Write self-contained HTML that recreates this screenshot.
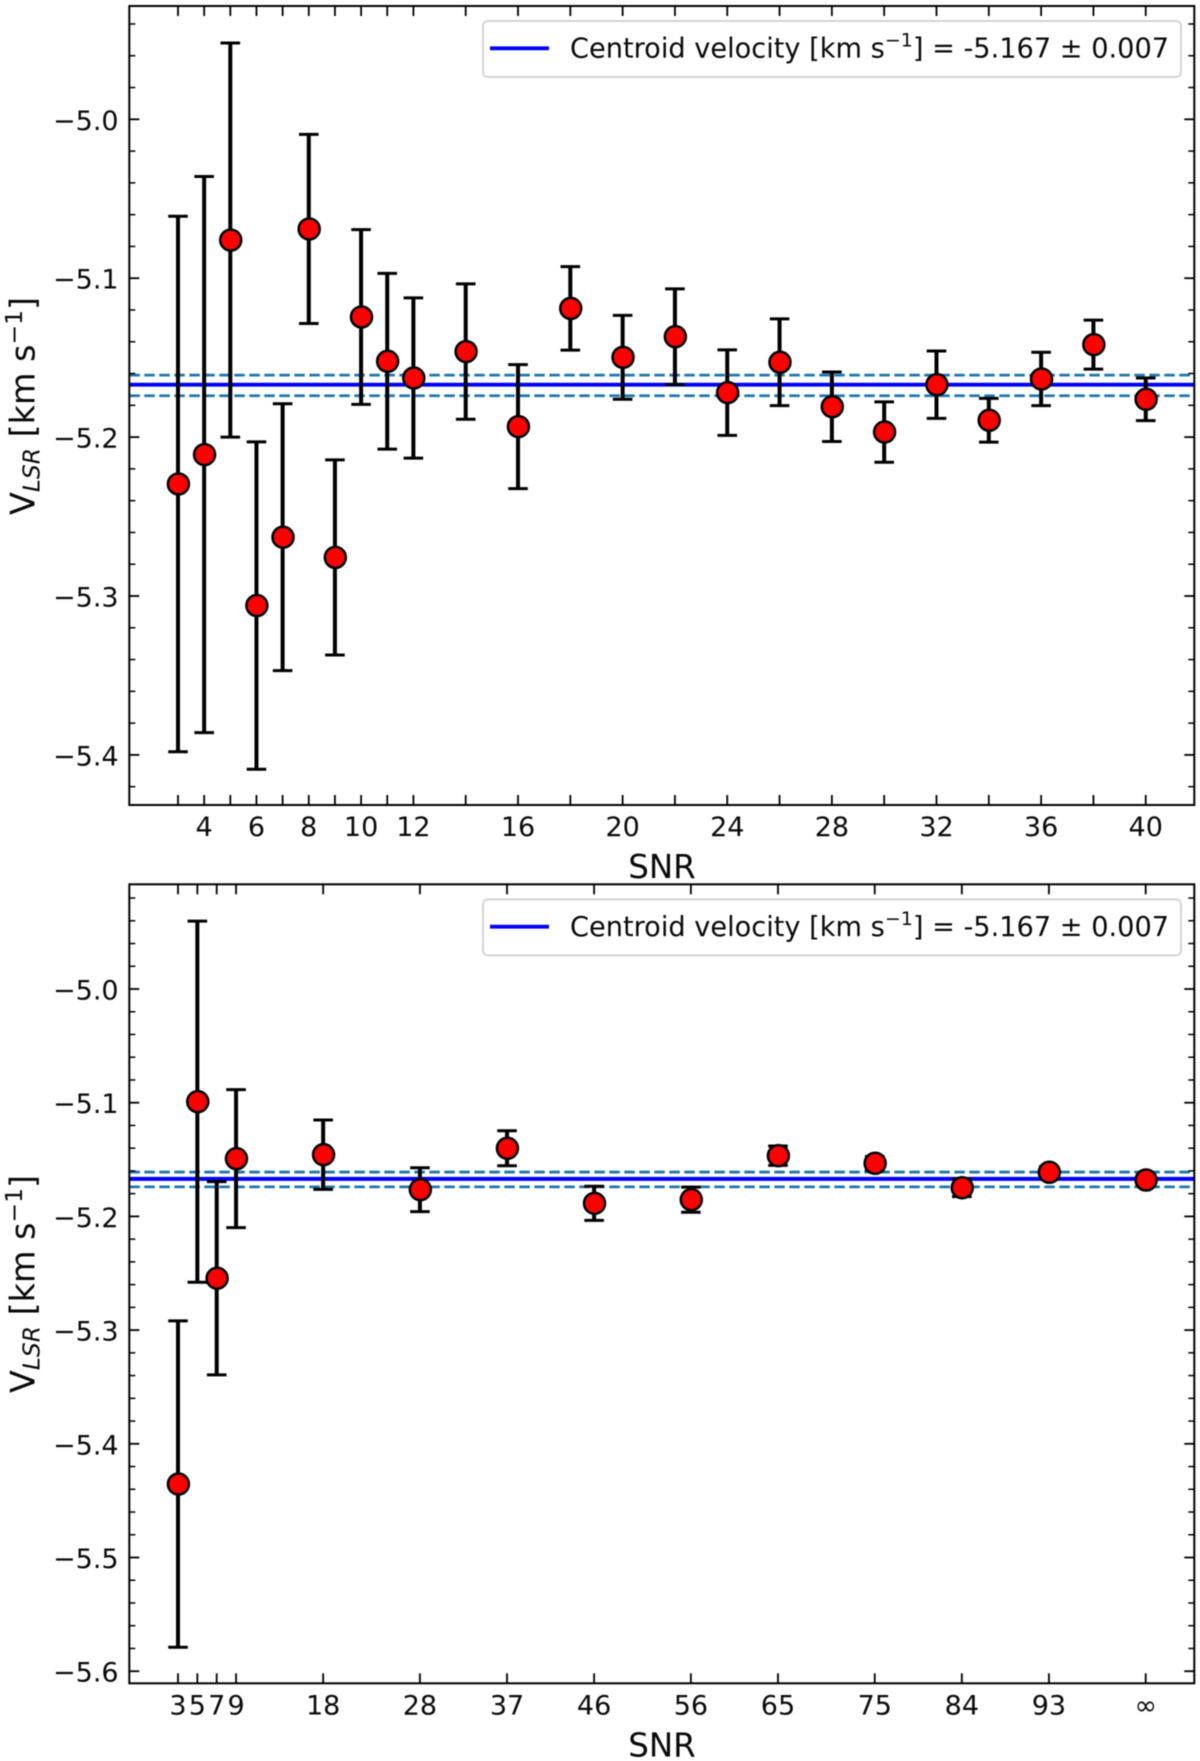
<!DOCTYPE html>
<html lang="en">
<head>
<meta charset="utf-8">
<title>Centroid velocity vs SNR</title>
<style>
  html, body { margin: 0; padding: 0; background: #fff; }
  body { width: 1200px; height: 1761px; overflow: hidden; }
  svg { display: block; filter: blur(0.4px); }
  text { font-family: "DejaVu Sans", "Liberation Sans", sans-serif; fill: #0a0a0a; }
  .tick-label { font-size: 27px; }
  .axis-title { font-size: 32.5px; }
  .y-title { font-size: 33.4px; }
  .legend-text { font-size: 27.2px; }
</style>
</head>
<body>
<svg id="figure" width="1200" height="1761" viewBox="0 0 1200 1761" xmlns="http://www.w3.org/2000/svg">
  <rect x="0" y="0" width="1200" height="1761" fill="#ffffff"/>

  <g id="panel-top"></g>
  <g id="panel-bottom"></g>

  <g>
    <rect x="483" y="21" width="698" height="56" rx="5" fill="#ffffff" fill-opacity="0.9" stroke="#d4d4d4" stroke-width="2"/>
    <line x1="490" y1="48.3" x2="549" y2="48.3" stroke="#0000ff" stroke-width="3.8"/>
    <text class="legend-text" x="570" y="57.5">Centroid velocity [km s<tspan dy="-11" font-size="19">−1</tspan><tspan dy="11">] = -5.167 ± 0.007</tspan></text>
  </g>
  <g>
    <rect x="483" y="899.4" width="698" height="56" rx="5" fill="#ffffff" fill-opacity="0.9" stroke="#d4d4d4" stroke-width="2"/>
    <line x1="490" y1="926.7" x2="549" y2="926.7" stroke="#0000ff" stroke-width="3.8"/>
    <text class="legend-text" x="570" y="935.9">Centroid velocity [km s<tspan dy="-11" font-size="19">−1</tspan><tspan dy="11">] = -5.167 ± 0.007</tspan></text>
  </g>

  <text class="axis-title" x="662" y="878" text-anchor="middle">SNR</text>
  <text class="axis-title" x="662" y="1756.5" text-anchor="middle">SNR</text>

  <text class="y-title" transform="translate(34.5,406) rotate(-90)" text-anchor="middle">V<tspan dy="5" font-size="23.4" font-style="italic">LSR</tspan><tspan dy="-5"> [km s</tspan><tspan dy="-12.5" font-size="23.4">−1</tspan><tspan dy="12.5">]</tspan></text>
  <text class="y-title" transform="translate(34.5,1284) rotate(-90)" text-anchor="middle">V<tspan dy="5" font-size="23.4" font-style="italic">LSR</tspan><tspan dy="-5"> [km s</tspan><tspan dy="-12.5" font-size="23.4">−1</tspan><tspan dy="12.5">]</tspan></text>
</svg>

<script>
// ---------- Top panel data ----------
const topSnr = [3, 4, 5, 6, 7, 8, 9, 10, 11, 12, 14, 16, 18, 20, 22, 24, 26, 28, 30, 32, 34, 36, 38, 40];
const topVelocity = [-5.2295, -5.211, -5.076, -5.306, -5.263, -5.069, -5.2757, -5.1244, -5.1523, -5.1628, -5.1462, -5.1934, -5.119, -5.1498, -5.1368, -5.172, -5.1529, -5.1809, -5.1968, -5.167, -5.1894, -5.1634, -5.1418, -5.1762];
const topError = [0.1685, 0.175, 0.124, 0.103, 0.084, 0.0595, 0.0614, 0.055, 0.0553, 0.0504, 0.0426, 0.039, 0.0263, 0.0264, 0.0301, 0.0269, 0.0273, 0.0219, 0.019, 0.0212, 0.0138, 0.0168, 0.0154, 0.0134];
const topXTicks = [3, 4, 5, 6, 7, 8, 9, 10, 11, 12, 14, 16, 18, 20, 22, 24, 26, 28, 30, 32, 34, 36, 38, 40];
const topXTickLabels = [4, 6, 8, 10, 12, 16, 20, 24, 28, 32, 36, 40];
const topYTicks = [-5.0, -5.1, -5.2, -5.3, -5.4];
const topYMinorTicks = [-4.94, -4.96, -4.98, -5.02, -5.04, -5.06, -5.08, -5.12, -5.14, -5.16, -5.18, -5.22, -5.24, -5.26, -5.28, -5.32, -5.34, -5.36, -5.38, -5.42];

// ---------- Bottom panel data ----------
const bottomSnr = [3, 5, 7, 9, 18, 28, 37, 46, 56, 65, 75, 84, 93, 103];
const bottomVelocity = [-5.4354, -5.0991, -5.2544, -5.1492, -5.1457, -5.1765, -5.1401, -5.1885, -5.1853, -5.1466, -5.1533, -5.1748, -5.1612, -5.168];
const bottomError = [0.1435, 0.1588, 0.085, 0.0607, 0.0305, 0.0193, 0.0154, 0.015, 0.011, 0.0085, 0.006, 0.0078, 0.005, 0.004];
const bottomXTicks = [3, 5, 7, 9, 18, 28, 37, 46, 56, 65, 75, 84, 93, 103];
const bottomXTickLabels = ["3", "5", "7", "9", "18", "28", "37", "46", "56", "65", "75", "84", "93", "∞"];
const bottomYTicks = [-5.0, -5.1, -5.2, -5.3, -5.4, -5.5, -5.6];
const bottomYMinorTicks = [-4.92, -4.94, -4.96, -4.98, -5.02, -5.04, -5.06, -5.08, -5.12, -5.14, -5.16, -5.18, -5.22, -5.24, -5.26, -5.28, -5.32, -5.34, -5.36, -5.38, -5.42, -5.44, -5.46, -5.48, -5.52, -5.54, -5.56, -5.58];

// ---------- Reference lines (both panels) ----------
const centroidVelocity = -5.167;
const centroidUpper = -5.161;
const centroidLower = -5.174;

const SVG_NS = 'http://www.w3.org/2000/svg';
const AXIS_LEFT = 129.3;
const AXIS_RIGHT = 1194.3;

function make(tag, attrs, parent) {
  const el = document.createElementNS(SVG_NS, tag);
  for (const key in attrs) el.setAttribute(key, attrs[key]);
  parent.appendChild(el);
  return el;
}

function drawPanel(cfg) {
  const g = document.getElementById(cfg.id);
  const xScale = s => cfg.xAt3 + (s - 3) * cfg.xPerUnit;
  const yScale = v => cfg.yAt5 + (-5 - v) * cfg.yPerUnit;

  // reference lines
  [centroidUpper, centroidLower].forEach(v => {
    const dash = make('line', { x1: AXIS_LEFT, x2: AXIS_RIGHT, y1: yScale(v), y2: yScale(v), stroke: '#1f77b4', 'stroke-width': 2.8, 'stroke-dasharray': '10.5 4.5' }, g);
    
    
  });
  const solid = make('line', { x1: AXIS_LEFT, x2: AXIS_RIGHT, y1: yScale(centroidVelocity), y2: yScale(centroidVelocity), stroke: '#0000ff', 'stroke-width': 3.9 }, g);
  
  

  // error bars and markers
  cfg.snr.forEach((s, i) => {
    const x = xScale(s);
    const top = yScale(cfg.velocity[i] + cfg.error[i]);
    const bottom = yScale(cfg.velocity[i] - cfg.error[i]);
    const bar = make('line', { x1: x, x2: x, y1: top, y2: bottom, stroke: '#000', 'stroke-width': 4 }, g);
    
    
    [top, bottom].forEach(y => {
      const cap = make('line', { x1: x - 9.8, x2: x + 9.8, y1: y, y2: y, stroke: '#000', 'stroke-width': 3 }, g);
      
      
    });
  });
  cfg.snr.forEach((s, i) => {
    const pt = make('circle', { cx: xScale(s) + 0.4, cy: yScale(cfg.velocity[i]), r: 10.5, fill: '#ff0000', stroke: '#000', 'stroke-width': 2.5 }, g);
    
    
  });

  // frame
  const frame = make('rect', { x: AXIS_LEFT, y: cfg.top, width: AXIS_RIGHT - AXIS_LEFT, height: cfg.bottom - cfg.top, fill: 'none', stroke: '#000', 'stroke-width': 2 }, g);
  
  

  // x ticks, inward on bottom and top spines
  cfg.xTicks.forEach(s => {
    const x = xScale(s);
    const lower = make('line', { x1: x, x2: x, y1: cfg.bottom, y2: cfg.bottom - 10, stroke: '#000', 'stroke-width': 1.8 }, g);
    
    
    const upper = make('line', { x1: x, x2: x, y1: cfg.top, y2: cfg.top + 10, stroke: '#000', 'stroke-width': 1.8 }, g);
    
    
  });

  // y major ticks and labels
  cfg.yTicks.forEach(v => {
    const y = yScale(v);
    const left = make('line', { x1: AXIS_LEFT, x2: AXIS_LEFT + 10, y1: y, y2: y, stroke: '#000', 'stroke-width': 1.8 }, g);
    
    
    const right = make('line', { x1: AXIS_RIGHT, x2: AXIS_RIGHT - 10, y1: y, y2: y, stroke: '#000', 'stroke-width': 1.8 }, g);
    
    
    const label = make('text', { x: 118.6, y: y + 10.5, 'text-anchor': 'end', class: 'tick-label' }, g);
    
    
    label.textContent = '\u2212' + Math.abs(v).toFixed(1);
  });

  // y minor ticks
  cfg.yMinor.forEach(v => {
    const y = yScale(v);
    const left = make('line', { x1: AXIS_LEFT, x2: AXIS_LEFT + 6, y1: y, y2: y, stroke: '#000', 'stroke-width': 1.5 }, g);
    
    
    const right = make('line', { x1: AXIS_RIGHT, x2: AXIS_RIGHT - 6, y1: y, y2: y, stroke: '#000', 'stroke-width': 1.5 }, g);
    
    
  });

  // x labels
  cfg.xLabels.forEach(item => {
    const label = make('text', { x: xScale(item.at), y: cfg.xLabelBaseline, 'text-anchor': 'middle', class: 'tick-label' }, g);
    
    
    label.textContent = item.text;
  });
}

drawPanel({
  id: 'panel-top', top: 6, bottom: 805,
  xAt3: 178, xPerUnit: 26.155, yAt5: 119.3, yPerUnit: 1589,
  snr: topSnr, velocity: topVelocity, error: topError,
  xTicks: topXTicks, yTicks: topYTicks, yMinor: topYMinorTicks,
  xLabels: topXTickLabels.map(v => ({ at: v, text: String(v) })),
  xLabelBaseline: 836
});

drawPanel({
  id: 'panel-bottom', top: 884.3, bottom: 1683.3,
  xAt3: 178, xPerUnit: 9.677, yAt5: 989, yPerUnit: 1137,
  snr: bottomSnr, velocity: bottomVelocity, error: bottomError,
  xTicks: bottomXTicks, yTicks: bottomYTicks, yMinor: bottomYMinorTicks,
  xLabels: bottomXTickLabels.map((t, i) => ({ at: bottomXTicks[i], text: t })),
  xLabelBaseline: 1714.5
});
</script>
</body>
</html>
